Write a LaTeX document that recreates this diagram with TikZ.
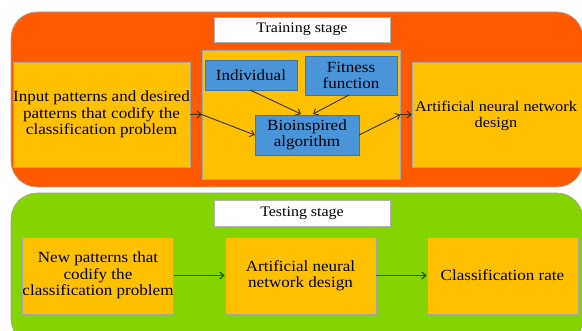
\documentclass[tikz,border=0pt]{standalone}
\usepackage{fontspec}
\setmainfont[FakeStretch=1.1]{Liberation Serif}
\usetikzlibrary{arrows.meta}
\definecolor{trainbg}{HTML}{FF5A00}
\definecolor{testbg}{HTML}{84D400}
\definecolor{ybox}{HTML}{FFC000}
\definecolor{bbox}{HTML}{4A95DA}
\definecolor{arr}{HTML}{3A3000}
\definecolor{garr}{HTML}{2E5A00}
\begin{document}
\begin{tikzpicture}[x=1pt,y=-1pt,
  stage/.style={draw=gray!70,line width=0.6pt,rounded corners=26pt},
  lab/.style={draw=gray!60,fill=white,line width=0.6pt,inner sep=0pt,font=\fontsize{14.5}{16}\selectfont},
  txt/.style={font=\fontsize{15.5}{16.5}\selectfont},
  ybx/.style={draw=gray!70,fill=ybox,line width=0.6pt,inner sep=0pt,align=center,txt},
  bbx/.style={draw=bbox!80!black,fill=bbox,line width=0.4pt,inner sep=0pt,align=center,txt},
  conn/.style={draw=arr,line width=0.9pt,-{Straight Barb[length=4pt,width=7pt]}},
  gconn/.style={draw=garr,line width=1.3pt,-{Straight Barb[length=4pt,width=7pt]}}]
\useasboundingbox (0,0) rectangle (582,331);
% stage backgrounds
\draw[stage,fill=trainbg] (11,12) rectangle (583,187);
\draw[stage,fill=testbg] (11,193) rectangle (583,345);
% labels
\node[lab,minimum width=176pt,minimum height=25pt] (tl) at (302,29.5) {Training stage};
\node[lab,minimum width=176pt,minimum height=26pt] (sl) at (302,213) {Testing stage};
% training
\node[ybx,minimum width=177pt,minimum height=105pt] (inp) at (101.5,114.5) {Input patterns and desired\\patterns that codify the\\classification problem};
\node[draw=gray!70,fill=ybox,line width=0.6pt,minimum width=198pt,minimum height=129pt,inner sep=0pt] (mid) at (301,114.5) {};
\node[bbx,minimum width=92pt,minimum height=30pt] (ind) at (251,75) {Individual};
\node[bbx,minimum width=92pt,minimum height=39pt] (fit) at (351,75.5) {Fitness\\function};
\node[bbx,minimum width=104pt,minimum height=40pt] (bio) at (307,135) {Bioinspired\\algorithm};
\node[draw=gray!70,fill=ybox,line width=0.6pt,minimum width=178pt,minimum height=105pt,inner sep=0pt] (ann) at (501,114.5) {};
\node[font=\fontsize{14.8}{16.5}\selectfont,align=center,inner sep=0pt] (annt) at (496,116) {Artificial neural network\\design};
\coordinate (pin) at (mid.west |- inp.east);
\coordinate (pout) at (mid.east |- ann.west);
\draw[conn] (inp.east) -- (pin);
\draw[conn] (pin) -- (bio.west);
\draw[conn] (bio.east) -- (pout);
\draw[conn] (pout) -- (ann.west);
\draw[conn] (250,90) -- (301,114);
\draw[conn] (349,95) -- (313,114);
% testing
\node[ybx,minimum width=150pt,minimum height=77pt] (np) at (98,275.5) {New patterns that\\codify the\\classification problem};
\node[ybx,minimum width=151pt,minimum height=77pt] (ann2) at (300.5,275.5) {Artificial neural\\network design};
\node[ybx,minimum width=151pt,minimum height=77pt] (cr) at (502.5,275.5) {Classification rate};
\draw[gconn] (np) -- (ann2);
\draw[gconn] (ann2) -- (cr);
\end{tikzpicture}
\end{document}
